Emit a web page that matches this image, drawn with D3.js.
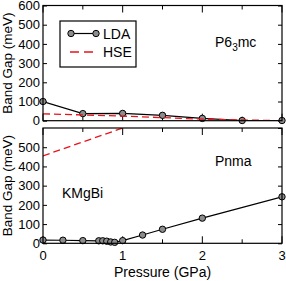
<!DOCTYPE html>
<html>
<head>
<meta charset="utf-8">
<script src="https://cdn.jsdelivr.net/npm/d3@7/dist/d3.min.js"></script>
<style>
body { margin: 0; background: #fff; }
text { font-family: "Liberation Sans", Arial, sans-serif; }
</style>
</head>
<body>
<div id="chart"></div>
<script>
var width = 286;
var height = 281;

// top panel (P6_3mc)
var topLdaP = [0, 0.5, 1, 1.5, 2, 2.5, 3];
var topLdaGap = [100, 37, 38, 28, 12, 1, 1];
var topHseP = [0, 1, 2, 3];
var topHseGap = [36, 24, 8, 0];

// bottom panel (Pnma)
var botLdaP = [0, 0.25, 0.5, 0.7, 0.75, 0.8, 0.85, 0.9, 1, 1.25, 1.5, 2, 3];
var botLdaGap = [17, 16, 14, 13, 13, 11, 7, 5, 14, 43, 73, 131, 242];
var botHseP = [0, 1];
var botHseGap = [455, 600];

var yTicks = [0, 100, 200, 300, 400, 500, 600];
var xTicks = [0, 1, 2, 3];

var left = 43, right = 282;
var topY = [5.5, 120.7];
var botY = [128, 243.3];

var svg = d3.select("#chart").append("svg")
  .attr("width", width)
  .attr("height", height);

var xScale = d3.scaleLinear().domain([0, 3]).range([left, right]);

function panel(yr, ldaP, ldaGap, hseP, hseGap, showZeroTop, id) {
  var yScale = d3.scaleLinear().domain([0, 600]).range([yr[1], yr[0]]);
  var g = svg.append("g");

  g.append("clipPath").attr("id", id)
    .append("rect")
    .attr("x", left).attr("y", yr[0])
    .attr("width", right - left).attr("height", yr[1] - yr[0]);

  // left axis
  var yl = d3.axisLeft(yScale).tickValues(showZeroTop ? yTicks : yTicks.slice(0, 6))
    .tickSizeInner(-4).tickSizeOuter(0).tickPadding(3);
  g.append("g").attr("transform", "translate(" + left + ",0)").call(yl)
    .call(function(a) {
      a.select(".domain").remove();
      a.selectAll("text").attr("font-size", "13px").attr("fill", "#000").attr("font-family", "Liberation Sans, Arial");
      a.selectAll("line").attr("stroke", "#000");
    });
  // right ticks
  var yr2 = d3.axisRight(yScale).tickValues(yTicks).tickSizeInner(-4).tickSizeOuter(0).tickFormat("");
  g.append("g").attr("transform", "translate(" + right + ",0)").call(yr2)
    .call(function(a) { a.select(".domain").remove(); a.selectAll("line").attr("stroke", "#000"); });

  // x ticks top & bottom
  var minor = d3.range(0.5, 3, 1);
  [yr[0], yr[1]].forEach(function(yy, i) {
    var dir = i === 0 ? 1 : -1;
    xTicks.forEach(function(t) {
      g.append("line").attr("x1", xScale(t)).attr("x2", xScale(t))
        .attr("y1", yy).attr("y2", yy + dir * 7).attr("stroke", "#000");
    });
    minor.forEach(function(t) {
      g.append("line").attr("x1", xScale(t)).attr("x2", xScale(t))
        .attr("y1", yy).attr("y2", yy + dir * 4).attr("stroke", "#000");
    });
  });

  var line = d3.line()
    .x(function(d) { return xScale(d[0]); })
    .y(function(d) { return yScale(d[1]); });

  var hse = hseP.map(function(p, i) { return [p, hseGap[i]]; });
  var lda = ldaP.map(function(p, i) { return [p, ldaGap[i]]; });

  g.append("path").datum(lda).attr("d", line)
    .attr("fill", "none").attr("stroke", "#000").attr("stroke-width", 1.2)
    .attr("clip-path", "url(#" + id + ")");

  g.selectAll("circle.pt").data(lda).enter().append("circle")
    .attr("cx", function(d) { return xScale(d[0]); })
    .attr("cy", function(d) { return yScale(d[1]); })
    .attr("r", 3.2)
    .attr("fill", "#8c8c8c").attr("stroke", "#000").attr("stroke-width", 1);

  g.append("path").datum(hse).attr("d", line)
    .attr("fill", "none").attr("stroke", "#e8141c").attr("stroke-width", 1.3)
    .attr("stroke-dasharray", "7,4")
    .attr("clip-path", "url(#" + id + ")");

  g.append("rect").attr("x", left).attr("y", yr[0])
    .attr("width", right - left).attr("height", yr[1] - yr[0])
    .attr("fill", "none").attr("stroke", "#000").attr("stroke-width", 1.2);

  svg.append("text")
    .attr("transform", "translate(12," + ((yr[0] + yr[1]) / 2) + ")rotate(-90)")
    .attr("text-anchor", "middle")
    .attr("font-size", "13.5px")
    .text("Band Gap (meV)");

  return g;
}

var gTop = panel(topY, topLdaP, topLdaGap, topHseP, topHseGap, true, "clipTop");
var gBot = panel(botY, botLdaP, botLdaGap, botHseP, botHseGap, false, "clipBot");

// x tick labels
svg.append("g").selectAll("text").data(xTicks).enter().append("text")
  .attr("x", function(d) { return xScale(d); })
  .attr("y", 260)
  .attr("text-anchor", "middle")
  .attr("font-size", "13px")
  .text(function(d) { return d; });

svg.append("text")
  .attr("x", (left + right) / 2)
  .attr("y", 277)
  .attr("text-anchor", "middle")
  .attr("font-size", "14px")
  .text("Pressure (GPa)");

// phase labels
var p6 = svg.append("text").attr("x", 215).attr("y", 47).attr("font-size", "14px");
p6.append("tspan").text("P6");
p6.append("tspan").attr("font-size", "10px").attr("dy", 4).text("3");
p6.append("tspan").attr("dy", -4).text("mc");

svg.append("text").attr("x", 215).attr("y", 166).attr("font-size", "14px").text("Pnma");
svg.append("text").attr("x", 62).attr("y", 198).attr("font-size", "14px").text("KMgBi");

// legend
var lg = svg.append("g");
lg.append("rect").attr("x", 60).attr("y", 21).attr("width", 76).attr("height", 46)
  .attr("fill", "#fff").attr("stroke", "#000").attr("stroke-width", 1.2);
lg.append("line").attr("x1", 71).attr("x2", 96).attr("y1", 33.5).attr("y2", 33.5)
  .attr("stroke", "#000").attr("stroke-width", 1.2);
[71, 96].forEach(function(cx) {
  lg.append("circle").attr("cx", cx).attr("cy", 33.5).attr("r", 3.2)
    .attr("fill", "#8c8c8c").attr("stroke", "#000");
});
lg.append("line").attr("x1", 70).attr("x2", 97).attr("y1", 52).attr("y2", 52)
  .attr("stroke", "#e8141c").attr("stroke-width", 1.3).attr("stroke-dasharray", "9,5");
lg.append("text").attr("x", 103).attr("y", 38.5).attr("font-size", "14px").text("LDA");
lg.append("text").attr("x", 103).attr("y", 57).attr("font-size", "14px").text("HSE");
</script>
</body>
</html>
